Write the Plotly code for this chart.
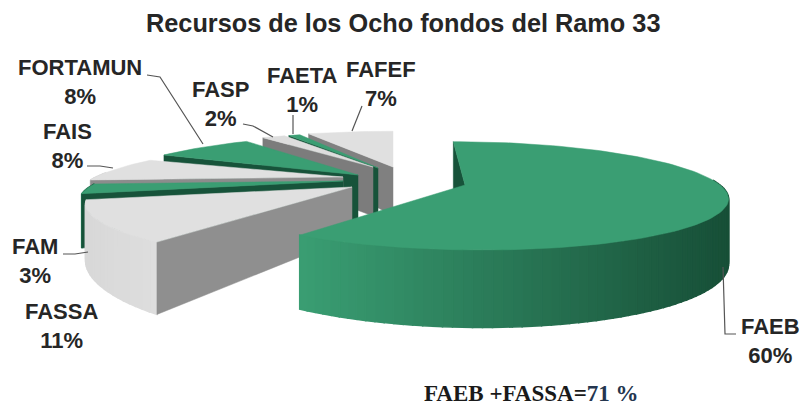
import math
import plotly.graph_objects as go

categories = ["FAEB", "FASSA", "FAM", "FAIS", "FORTAMUN", "FASP", "FAETA", "FAFEF"]
values = [60, 11, 3, 8, 8, 2, 1, 7]
label_x = [770, 61, 35, 67, 80, 220, 302, 381]
label_y = [341, 326, 261, 146, 82, 104, 90, 84]
title = "Recursos de los Ocho fondos del Ramo 33"

# layout constants of the exploded pseudo-3D pie
CX, CY = 372, 172
PULL_X = [93, -20, -29, -29, -14, 1, 6, 21]
PULL_Y = [13, 15, 9, 5, 3, -5, -4, -5]
TOP = ["#3A9E73", "#E0E0E0", "#3A9E73", "#E0E0E0", "#3A9E73", "#DDDDDD", "#3A9E73", "#E0E0E0"]
SIDE = ["#17533A", "#8F8F8F", "#17533A", "#8C8C8C", "#17533A", "#7C7C7C", "#17533A", "#808080"]
WALL_A = ["#3A9E73", "#D8D8D8", "#2F8A63", "#D8D8D8", "#2F8A63", "#BBBBBB", "#2F8A63", "#D0D0D0"]
WALL_B = ["#174F37", "#DEDEDE", "#17533A", "#D8D8D8", "#17533A", "#BBBBBB", "#17533A", "#D0D0D0"]
RX = [255, 252, 243, 247, 251, 248, 250, 270]
RY = [52, 46, 46, 46, 55, 48, 50, 50]
KP = [0.2, 0.4, 0.4, 0.4, 0.4, 0.4, 0.4, 0.4]
SHEAR = [-14, -20, 0, -5, 0, 0, 0, 0]
DEPTH = [62, 49, 49, 49, 49, 49, 49, 49]

fig = go.Figure()


def poly(xs, ys, color, w=0.5):
    fig.add_trace(go.Scatter(x=xs, y=ys, mode="lines", fill="toself", fillcolor=color,
                             line=dict(color=color, width=w), hoverinfo="skip", showlegend=False))


def project(i, ang, r=1.0, down=False):
    u, v = r * math.sin(ang), r * math.cos(ang)
    s = 1 / (1 + KP[i] * v)
    x = CX + PULL_X[i] + u * s * RX[i] + SHEAR[i] * v * s
    y = CY + PULL_Y[i] - v * s * RY[i]
    if down:
        y += DEPTH[i] * s
    return x, y


def mix(a, b, t):
    ca = [int(a[j:j + 2], 16) for j in (1, 3, 5)]
    cb = [int(b[j:j + 2], 16) for j in (1, 3, 5)]
    return "rgb(%d,%d,%d)" % tuple(round(p + (q - p) * t) for p, q in zip(ca, cb))


total = sum(values)
edges = [0.0]
for val in values:
    edges.append(edges[-1] + val / total * 2 * math.pi)

# paint back to front
for i in reversed(range(len(values))):
    a0, a1 = edges[i], edges[i + 1]
    n = max(8, int(values[i] * 2))
    angs = [a0 + (a1 - a0) * k / n for k in range(n + 1)]
    # outer wall, gradient left to right (front-facing part only)
    front = [a for a in angs if math.cos(a) < 0.1]
    if len(front) > 1:
        xs_all = [project(i, a)[0] for a in front]
        xmin, xmax = min(xs_all), max(xs_all)
        for p, q in zip(front[:-1], front[1:]):
            pt, qt = project(i, p), project(i, q)
            pb, qb = project(i, p, down=True), project(i, q, down=True)
            t = ((pt[0] + qt[0]) / 2 - xmin) / max(1, xmax - xmin)
            c = mix(WALL_A[i], WALL_B[i], min(1, max(0, t)))
            poly([pt[0], qt[0], qb[0], pb[0], pt[0]], [pt[1], qt[1], qb[1], pb[1], pt[1]], c, 1.5)
    # radial wall at the leading edge
    ax, ay = project(i, 0, 0)
    bx, by = project(i, 0, 0, down=True)
    px, py = project(i, a0)
    qx, qy = project(i, a0, down=True)
    poly([ax, px, qx, bx, ax], [ay, py, qy, by, ay], SIDE[i])
    # top face
    pts = [project(i, a) for a in angs]
    poly([ax] + [p[0] for p in pts] + [ax], [ay] + [p[1] for p in pts] + [ay], TOP[i])

# leader lines, in label order
leaders = [
    ([723, 725, 736], [267, 334, 334]),
    ([], []),
    ([63, 75, 88], [254, 254, 252]),
    ([87, 100, 113], [166, 166, 168]),
    ([147, 160, 203], [75, 77, 144]),
    ([243, 253, 273], [124, 126, 137]),
    ([293, 293], [115, 134]),
    ([362, 352], [106, 131]),
]
for lx, ly in leaders:
    if lx:
        fig.add_trace(go.Scatter(x=lx, y=ly, mode="lines", line=dict(color="#555555", width=1.2),
                                 hoverinfo="skip", showlegend=False))

for name, val, x, y in zip(categories, values, label_x, label_y):
    fig.add_annotation(x=x, y=y, xref="x", yref="y", showarrow=False, align="center",
                       text=f"<b>{name}<br>{val}%</b>",
                       font=dict(family="Liberation Sans", size=22, color="#262626"))

fig.add_annotation(x=403, y=23, xref="x", yref="y", showarrow=False, text=f"<b>{title}</b>",
                   font=dict(family="Liberation Sans", size=25.3, color="#262626"))
fig.add_annotation(x=531, y=393, xref="x", yref="y", showarrow=False,
                   text="<b>FAEB +FASSA=<span style='color:#24364F'>71 %</span></b>",
                   font=dict(family="Liberation Serif", size=23, color="#1a1a1a"))

fig.update_xaxes(range=[0, 801], visible=False, fixedrange=True)
fig.update_yaxes(range=[407, 0], visible=False, fixedrange=True)
fig.update_layout(width=801, height=407, margin=dict(l=0, r=0, t=0, b=0),
                  paper_bgcolor="white", plot_bgcolor="white", showlegend=False)
fig.write_html("out.html", config={"displayModeBar": False},
               post_script="document.body.style.margin='0';document.body.style.overflow='hidden';"
                           "document.documentElement.style.overflow='hidden';")
